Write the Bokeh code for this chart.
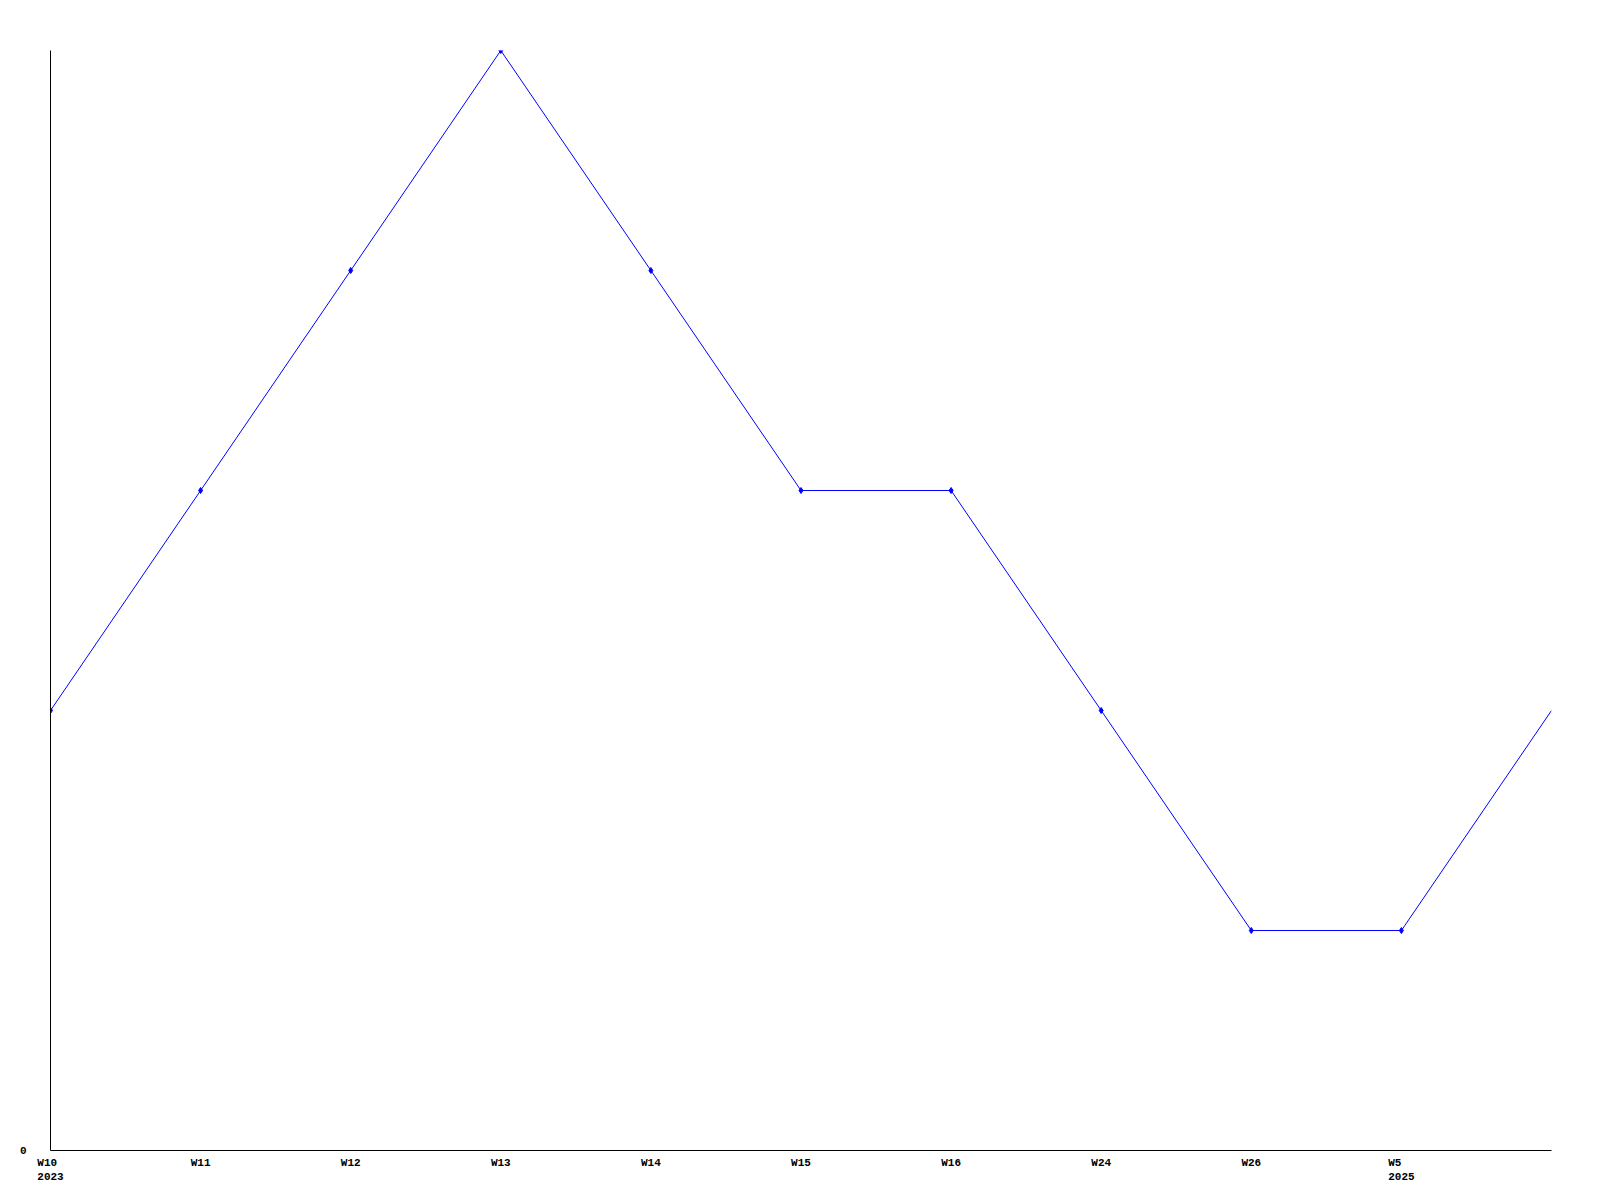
from bokeh.plotting import figure
from bokeh.models import FixedTicker, Range1d
from bokeh.embed import file_html
from bokeh.resources import INLINE

weeks = ["W10", "W11", "W12", "W13", "W14", "W15", "W16", "W24", "W26", "W5"]
years = ["2023", "", "", "", "", "", "", "", "", "2025"]
values = [2, 3, 4, 5, 4, 3, 3, 2, 1, 1, 2]
y_ticks = [0]

xs = list(range(len(values)))
FONT = "Liberation Mono"
NBSP = "\u00a0"


def make_label(w, y):
    if not y:
        return w
    n = max(len(w), len(y))
    return w.ljust(n, NBSP) + "\n" + y.ljust(n, NBSP)


p = figure(output_backend="svg", toolbar_location=None,
           frame_width=1501, frame_height=1100,
           x_range=Range1d(0, len(values) - 1), y_range=Range1d(0, max(values)),
           min_border_left=50, min_border_top=50, min_border_right=41, min_border_bottom=42)
p.outline_line_color = None
p.xgrid.visible = False
p.ygrid.visible = False

p.line(xs, values, line_color="#0000ff", line_width=1)
p.scatter(xs[:len(weeks)], values[:len(weeks)], marker="diamond", size=6,
          fill_color="#0000ff", line_color="#0000ff")

tick_pos = list(range(len(weeks)))
p.xaxis.ticker = FixedTicker(ticks=tick_pos)
p.xaxis.major_label_overrides = {t: make_label(w, y) for t, w, y in zip(tick_pos, weeks, years)}
p.xaxis.major_label_text_font = FONT
p.xaxis.major_label_text_font_style = "bold"
p.xaxis.major_label_text_font_size = "11px"
p.xaxis.major_label_text_color = "black"
p.xaxis.major_label_standoff = 0
p.xaxis.major_tick_line_color = None
p.xaxis.minor_tick_line_color = None
p.xaxis.axis_line_color = "black"

p.yaxis.ticker = FixedTicker(ticks=y_ticks)
p.yaxis.major_label_text_font = FONT
p.yaxis.major_label_text_font_style = "bold"
p.yaxis.major_label_text_font_size = "11px"
p.yaxis.major_label_text_color = "black"
p.yaxis.major_label_standoff = 18
p.yaxis.major_tick_line_color = None
p.yaxis.minor_tick_line_color = None
p.yaxis.axis_line_color = "black"

open("out.html", "w").write(file_html(p, INLINE))
